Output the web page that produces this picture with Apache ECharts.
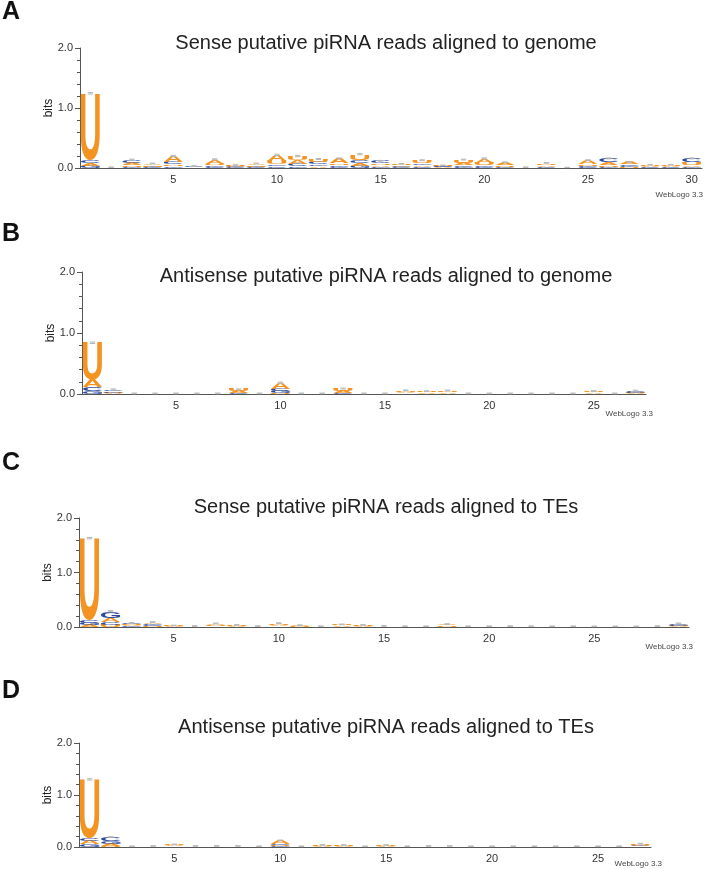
<!DOCTYPE html>
<html><head><meta charset="utf-8">
<script src="https://cdn.jsdelivr.net/npm/echarts@6/dist/echarts.min.js"></script>
<style>html,body{margin:0;padding:0;background:#fff}#c{width:705px;height:869px}</style>
</head><body><div id="c"></div>
<script>
// ---------- DATA ----------
const panelLetters = ['A', 'B', 'C', 'D'];
const panelTitles = [
  'Sense putative piRNA reads aligned to genome',
  'Antisense putative piRNA reads aligned to genome',
  'Sense putative piRNA reads aligned to TEs',
  'Antisense putative piRNA reads aligned to TEs'
];
const yTickLabels = ['0.0', '1.0', '2.0'];
const xTickLabels = ['5', '10', '15', '20', '25', '30'];

const positionsA = ['1','2','3','4','5','6','7','8','9','10','11','12','13','14','15','16','17','18','19','20','21','22','23','24','25','26','27','28','29','30'];
const positionsB = ['1','2','3','4','5','6','7','8','9','10','11','12','13','14','15','16','17','18','19','20','21','22','23','24','25','26','27'];
const positionsC = ['1','2','3','4','5','6','7','8','9','10','11','12','13','14','15','16','17','18','19','20','21','22','23','24','25','26','27','28','29'];
const positionsD = ['1','2','3','4','5','6','7','8','9','10','11','12','13','14','15','16','17','18','19','20','21','22','23','24','25','26','27'];

// bits per nucleotide, per position
const panelA_A = [0.05,0.004,0.04,0.03,0.10,0.008,0.07,0.015,0.03,0.10,0.06,0.03,0.08,0.05,0.03,0.025,0.03,0.01,0.04,0.07,0.05,0.003,0.03,0.002,0.06,0.05,0.04,0.02,0.02,0.03];
const panelA_C = [0.05,0.003,0.05,0.01,0.04,0.01,0.02,0.01,0.01,0.03,0.04,0.04,0.02,0.05,0.04,0.01,0.02,0.01,0.03,0.02,0.01,0.003,0.02,0.002,0.02,0.06,0.03,0.01,0.01,0.06];
const panelA_G = [0.035,0.003,0.02,0.01,0.03,0.008,0.025,0.01,0.01,0.03,0.03,0.03,0.03,0.04,0.02,0.01,0.03,0.01,0.02,0.03,0.005,0.003,0.005,0.002,0.02,0.02,0.02,0.005,0.005,0.02];
const panelA_U = [1.11,0.004,0.03,0.025,0.03,0.008,0.03,0.015,0.025,0.06,0.07,0.05,0.03,0.09,0.03,0.025,0.05,0.015,0.05,0.04,0.03,0.004,0.03,0.003,0.03,0.03,0.01,0.02,0.02,0.05];
const panelA_err = [0.012,0.004,0.008,0.006,0.01,0.004,0.008,0.005,0.006,0.01,0.01,0.008,0.008,0.01,0.007,0.005,0.007,0.004,0.007,0.008,0.006,0.004,0.006,0.003,0.007,0.008,0.006,0.005,0.005,0.008];

const panelB_A = [0.12,0.01,0.003,0.003,0.003,0.003,0.003,0.03,0.003,0.10,0.003,0.003,0.03,0.003,0.003,0.025,0.02,0.025,0.003,0.003,0.003,0.003,0.003,0.003,0.02,0.003,0.01];
const panelB_C = [0.06,0.03,0.002,0.002,0.002,0.002,0.002,0.01,0.002,0.04,0.002,0.002,0.015,0.002,0.002,0.005,0.003,0.004,0.002,0.002,0.002,0.002,0.002,0.002,0.004,0.002,0.02];
const panelB_G = [0.05,0.025,0.002,0.002,0.002,0.002,0.002,0.005,0.002,0.035,0.002,0.002,0.005,0.002,0.002,0.005,0.003,0.004,0.002,0.002,0.002,0.002,0.002,0.002,0.004,0.002,0.015];
const panelB_U = [0.61,0.01,0.003,0.003,0.003,0.003,0.003,0.03,0.003,0.01,0.003,0.003,0.04,0.003,0.003,0.025,0.02,0.025,0.003,0.003,0.003,0.003,0.003,0.003,0.02,0.003,0.01];
const panelB_err = [0.012,0.008,0.006,0.006,0.006,0.006,0.006,0.008,0.006,0.01,0.006,0.006,0.008,0.006,0.006,0.007,0.006,0.007,0.006,0.006,0.006,0.006,0.006,0.006,0.007,0.006,0.008];

const panelC_A = [0.04,0.08,0.02,0.03,0.01,0.005,0.03,0.015,0.005,0.03,0.015,0.004,0.02,0.015,0.005,0.004,0.004,0.025,0.004,0.004,0.004,0.004,0.004,0.004,0.003,0.003,0.003,0.004,0.01];
const panelC_C = [0.05,0.05,0.025,0.025,0.004,0.004,0.005,0.004,0.003,0.005,0.004,0.003,0.004,0.004,0.004,0.003,0.003,0.004,0.003,0.003,0.004,0.003,0.003,0.003,0.003,0.003,0.003,0.004,0.025];
const panelC_G = [0.04,0.12,0.01,0.025,0.004,0.004,0.005,0.004,0.003,0.005,0.004,0.003,0.004,0.004,0.004,0.003,0.003,0.004,0.003,0.003,0.004,0.003,0.003,0.003,0.003,0.003,0.003,0.004,0.02];
const panelC_U = [1.50,0.04,0.02,0.01,0.01,0.005,0.025,0.015,0.005,0.03,0.01,0.004,0.02,0.015,0.005,0.004,0.004,0.02,0.004,0.004,0.004,0.004,0.004,0.004,0.003,0.003,0.003,0.004,0.01];
const panelC_err = [0.012,0.01,0.008,0.008,0.006,0.006,0.007,0.006,0.006,0.007,0.006,0.006,0.006,0.006,0.006,0.006,0.006,0.007,0.006,0.006,0.006,0.006,0.006,0.006,0.006,0.006,0.006,0.006,0.008];

const panelD_A = [0.06,0.04,0.004,0.006,0.02,0.006,0.006,0.006,0.004,0.06,0.004,0.015,0.015,0.004,0.015,0.004,0.006,0.006,0.004,0.004,0.004,0.004,0.004,0.004,0.004,0.004,0.02];
const panelD_C = [0.06,0.07,0.003,0.004,0.005,0.004,0.004,0.004,0.003,0.025,0.003,0.004,0.004,0.003,0.004,0.003,0.004,0.004,0.003,0.003,0.003,0.003,0.003,0.003,0.003,0.003,0.015];
const panelD_G = [0.05,0.06,0.003,0.004,0.005,0.004,0.004,0.004,0.003,0.02,0.003,0.004,0.004,0.003,0.004,0.003,0.004,0.004,0.003,0.003,0.003,0.003,0.003,0.003,0.003,0.003,0.01];
const panelD_U = [1.13,0.02,0.004,0.006,0.02,0.006,0.006,0.006,0.004,0.02,0.004,0.015,0.015,0.004,0.015,0.004,0.006,0.006,0.004,0.004,0.004,0.004,0.004,0.004,0.004,0.004,0.02];
const panelD_err = [0.012,0.01,0.006,0.006,0.007,0.006,0.006,0.006,0.006,0.009,0.006,0.006,0.006,0.006,0.006,0.006,0.006,0.006,0.006,0.006,0.006,0.006,0.006,0.006,0.006,0.006,0.007];

// ---------- RENDERING ----------
const panels = [
  {cats: positionsA, L: {A: panelA_A, C: panelA_C, G: panelA_G, U: panelA_U}, err: panelA_err},
  {cats: positionsB, L: {A: panelB_A, C: panelB_C, G: panelB_G, U: panelB_U}, err: panelB_err},
  {cats: positionsC, L: {A: panelC_A, C: panelC_C, G: panelC_G, U: panelC_U}, err: panelC_err},
  {cats: positionsD, L: {A: panelD_A, C: panelD_C, G: panelD_G, U: panelD_U}, err: panelD_err}
];
const grids = [
  {left: 80, top: 48, width: 622, height: 120},
  {left: 82, top: 272, width: 564, height: 122},
  {left: 79, top: 518, width: 610, height: 109},
  {left: 79, top: 743, width: 572, height: 104}
];
const titleY = [43, 276, 507, 727];
const letterY = [12, 234, 463, 691];
const webLogoPos = [[703, 195], [653, 414], [693, 647], [662, 864]];

const ORANGE = '#F39321', BLUE = '#2C4A9C';
const COLORS = {A: ORANGE, U: ORANGE, C: BLUE, G: BLUE};
const GLYPH_FONT = 'bold 100px "Liberation Sans", Arial, sans-serif';
const NUCS = ['A', 'C', 'G', 'U'];
const metrics = {};
(function () {
  const ctx = document.createElement('canvas').getContext('2d');
  ctx.font = GLYPH_FONT; ctx.textAlign = 'center'; ctx.textBaseline = 'middle';
  NUCS.forEach(function (l) {
    const m = ctx.measureText(l);
    metrics[l] = {L: m.actualBoundingBoxLeft, R: m.actualBoundingBoxRight, A: m.actualBoundingBoxAscent, D: m.actualBoundingBoxDescent};
  });
})();

function makeRender(p) {
  return function (params, api) {
    const i = params.dataIndex;
    const stack = NUCS.map(function (l) { return {l: l, h: p.L[l][i]}; }).sort(function (a, b) { return a.h - b.h; });
    const w = api.size([1, 0])[0] * 0.92;
    const xc = api.coord([i, 0])[0];
    let cum = 0;
    const children = [];
    stack.forEach(function (s) {
      const yb = api.coord([i, cum])[1];
      const yt = api.coord([i, cum + s.h])[1];
      cum += s.h;
      const h = yb - yt;
      if (h < 0.35) return;
      const m = metrics[s.l];
      const sx = w / (m.L + m.R), sy = h / (m.A + m.D);
      children.push({
        type: 'text', silent: true,
        x: xc - w / 2 + m.L * sx, y: yt + m.A * sy, scaleX: sx, scaleY: sy,
        style: {text: s.l, font: GLYPH_FONT, fill: COLORS[s.l], align: 'center', verticalAlign: 'middle'}
      });
    });
    const e = p.err[i];
    const y1 = api.coord([i, cum + e])[1], y0 = api.coord([i, Math.max(0, cum - e)])[1];
    const cw = w * 0.14;
    children.push({type: 'line', silent: true, shape: {x1: xc, y1: y1, x2: xc, y2: y0}, style: {stroke: '#b8b8b8', lineWidth: 1}});
    children.push({type: 'line', silent: true, shape: {x1: xc - cw, y1: y1, x2: xc + cw, y2: y1}, style: {stroke: '#b8b8b8', lineWidth: 1}});
    children.push({type: 'line', silent: true, shape: {x1: xc - cw, y1: y0, x2: xc + cw, y2: y0}, style: {stroke: '#b8b8b8', lineWidth: 1}});
    return {type: 'group', children: children};
  };
}

const AXIS_COLOR = '#555';
const option = {
  animation: false,
  grid: grids,
  xAxis: panels.map(function (p, k) {
    return {
      type: 'category', gridIndex: k, data: p.cats, boundaryGap: true,
      axisLine: {lineStyle: {color: AXIS_COLOR, width: 1}},
      axisTick: {alignWithLabel: true, interval: 0, length: 4, lineStyle: {color: AXIS_COLOR}},
      axisLabel: {interval: 0, margin: 6, fontSize: 11, color: '#333', fontFamily: '"Liberation Sans", Arial, sans-serif',
        formatter: function (v) { return xTickLabels.indexOf(v) >= 0 ? v : ''; }},
      splitLine: {show: false}
    };
  }),
  yAxis: panels.map(function (p, k) {
    return {
      type: 'value', gridIndex: k, min: 0, max: 2, interval: 1,
      name: 'bits', nameLocation: 'middle', nameGap: 25, nameMoveOverlap: false,
      nameTextStyle: {fontSize: 12, color: '#222', fontFamily: '"Liberation Sans", Arial, sans-serif'},
      axisLine: {show: true, lineStyle: {color: AXIS_COLOR, width: 1}},
      axisTick: {show: true, length: 5, lineStyle: {color: AXIS_COLOR}},
      minorTick: {show: true, splitNumber: 5, length: 3, lineStyle: {color: AXIS_COLOR}},
      axisLabel: {margin: 7, fontSize: 11, color: '#333', fontFamily: '"Liberation Sans", Arial, sans-serif',
        formatter: function (v) { return yTickLabels[Math.round(v)]; }},
      splitLine: {show: false}
    };
  }),
  graphic: [].concat(
    panelTitles.map(function (t, k) {
      return {type: 'text', x: 386, y: titleY[k], style: {text: t, font: '20px "Liberation Sans", Arial, sans-serif', fill: '#222', align: 'center', verticalAlign: 'middle'}};
    }),
    panelLetters.map(function (t, k) {
      return {type: 'text', x: 2, y: letterY[k], style: {text: t, font: 'bold 25px "Liberation Sans", Arial, sans-serif', fill: '#111', align: 'left', verticalAlign: 'middle'}};
    }),
    webLogoPos.map(function (pos) {
      return {type: 'text', x: pos[0], y: pos[1], style: {text: 'WebLogo 3.3', font: '8px "Liberation Sans", Arial, sans-serif', fill: '#444', align: 'right', verticalAlign: 'middle'}};
    })
  ),
  series: panels.map(function (p, k) {
    return {
      type: 'custom', xAxisIndex: k, yAxisIndex: k, clip: false,
      data: p.cats.map(function (c, i) { return [i, NUCS.reduce(function (s, l) { return s + p.L[l][i]; }, 0)]; }),
      encode: {x: 0, y: 1},
      renderItem: makeRender(p)
    };
  })
};
const chart = echarts.init(document.getElementById('c'), null, {renderer: 'canvas'});
chart.setOption(option);
</script></body></html>
